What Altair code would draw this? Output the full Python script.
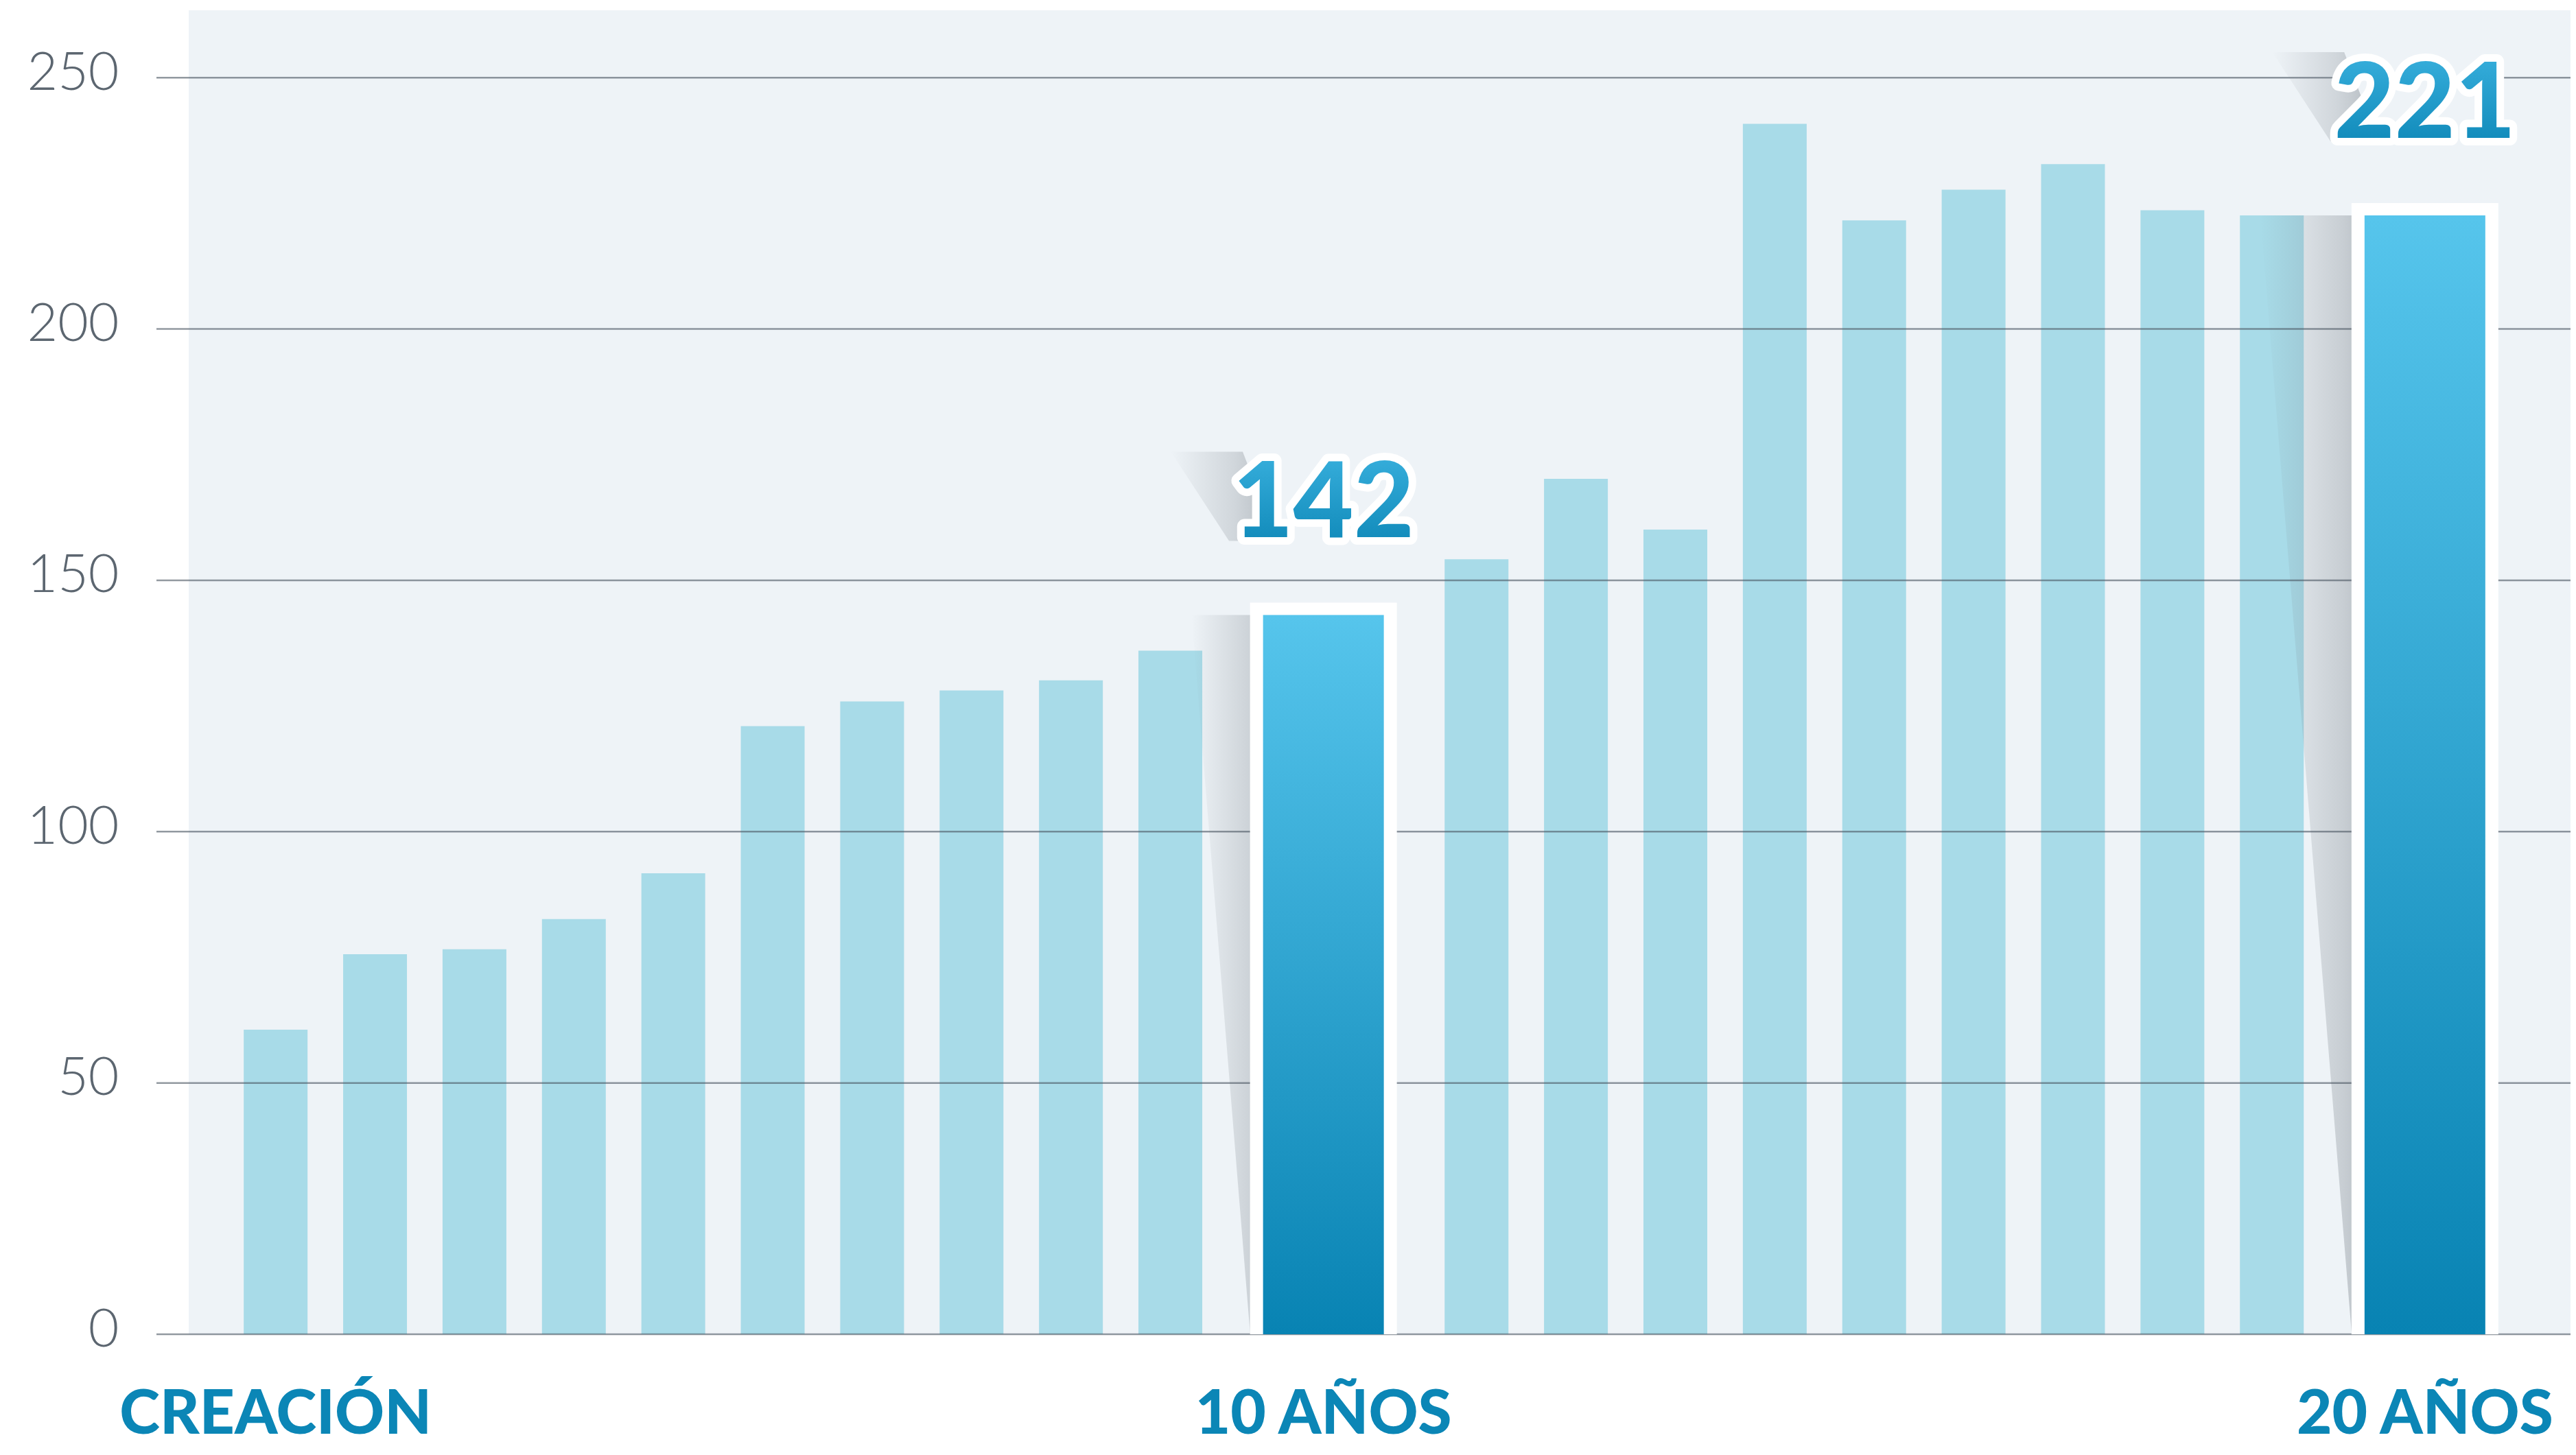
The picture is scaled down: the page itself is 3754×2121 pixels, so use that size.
import altair as alt
import pandas as pd

# ---------------- data ----------------
values = [60.6, 75.6, 76.6, 82.6, 91.7, 121.0, 125.9, 128.1, 130.1, 136.0, 143.1,
          154.2, 170.2, 160.1, 240.8, 221.6, 227.7, 232.8, 223.6, 222.6, 222.6]
highlight_index = [10, 20]
highlight_labels = ["142", "221"]
milestone_index = [0, 10, 20]
milestone_labels = ["CREACIÓN", "10 AÑOS", "20 AÑOS"]
y_ticks = [0, 50, 100, 150, 200, 250]

# ---------------- layout constants ----------------
W, H = 3471, 1930
X_MIN, X_MAX = -0.84, 23.05
Y_MAX = 263.4
UNIT_X = W / (X_MAX - X_MIN)      # px per x unit
UNIT_Y = H / Y_MAX                # px per y unit
GAP = 0.54                        # extra room around highlighted bars (in bar pitches)
TXT_DY = 113                      # px between bar top and number baseline

pos = []
h_before = 0
for i in range(len(values)):
    h = 1 if i in highlight_index else 0
    pos.append(i + GAP * (2 * h_before + h))
    h_before += h

bars = pd.DataFrame({"pos": pos, "value": values,
                     "hl": [i in highlight_index for i in range(len(values))]})
light = bars[~bars["hl"]]
hl = bars[bars["hl"]].copy()
hl["label"] = highlight_labels
hl["white_top"] = hl["value"] + 18 / UNIT_Y

# shadow cast by highlighted bars (triangle to their left)
shadow_rows = []
for k, (p, v) in enumerate(zip(hl["pos"], hl["value"])):
    edge = p - 107 / UNIT_X
    spread = v * 0.6 / UNIT_X
    shadow_rows.append({"g": k, "y": 0, "xl": edge, "xr": p})
    shadow_rows.append({"g": k, "y": v, "xl": edge - spread, "xr": p})
shadow = pd.DataFrame(shadow_rows)

# soft shadow cast by the highlighted numbers (towards the upper left)
tshadow_rows = []
for k, (p, v) in enumerate(zip(hl["pos"], hl["value"])):
    left = p - 128 / UNIT_X
    y_base = v + (TXT_DY - 5) / UNIT_Y
    y_top = v + (TXT_DY + 125) / UNIT_Y
    tshadow_rows.append({"g": k, "y": y_base, "xl": left - 10 / UNIT_X, "xr": left + 60 / UNIT_X})
    tshadow_rows.append({"g": k, "y": y_top, "xl": left - 95 / UNIT_X, "xr": left + 10 / UNIT_X})
tshadow = pd.DataFrame(tshadow_rows)

ticks = pd.DataFrame({"tick": y_ticks})
miles = pd.DataFrame({"pos": [pos[i] for i in milestone_index], "label": milestone_labels})

# ---------------- scales / axes ----------------
xs = alt.Scale(domain=[X_MIN, X_MAX], nice=False, zero=False)
ys = alt.Scale(domain=[0, Y_MAX], nice=False)
yaxis = alt.Axis(values=y_ticks, grid=False, domain=False, ticks=False, title=None,
                 labelPadding=102, labelFont="Lato", labelFontSize=77, labelFontWeight=300,
                 labelColor="#5C6670", labelOffset=-6, labelBaseline="middle")


def X(f):
    return alt.X(f, type="quantitative", scale=xs, axis=None)


def Y(f):
    return alt.Y(f, type="quantitative", scale=ys, axis=yaxis)


blue_v = alt.Gradient(gradient="linear", x1=0, y1=0, x2=0, y2=1,
                      stops=[alt.GradientStop(color="#56C5EC", offset=0),
                             alt.GradientStop(color="#0883B3", offset=1)])
blue_txt = alt.Gradient(gradient="linear", x1=0, y1=0, x2=0, y2=1,
                        stops=[alt.GradientStop(color="#3FB6E3", offset=0),
                               alt.GradientStop(color="#0A84B4", offset=1)])
shadow_g = alt.Gradient(gradient="linear", x1=0, y1=0, x2=1, y2=0,
                        stops=[alt.GradientStop(color="rgba(120,128,136,0)", offset=0),
                               alt.GradientStop(color="rgba(120,128,136,0.32)", offset=0.5),
                               alt.GradientStop(color="rgba(90,98,106,0.70)", offset=1)])
tshadow_g = alt.Gradient(gradient="linear", x1=0, y1=0, x2=1, y2=0,
                         stops=[alt.GradientStop(color="rgba(120,128,136,0)", offset=0),
                                alt.GradientStop(color="rgba(120,128,136,0.25)", offset=0.6),
                                alt.GradientStop(color="rgba(100,108,116,0.45)", offset=1)])

light_bars = alt.Chart(light).mark_bar(size=93, color="#A8DBE8").encode(
    x=X("pos"), y=Y("value"))

shadows = alt.Chart(shadow).mark_area(orient="horizontal", fill=shadow_g).encode(
    y=Y("y"), x=X("xl"), x2="xr", detail="g:N")

text_shadows = alt.Chart(tshadow).mark_area(orient="horizontal", fill=tshadow_g).encode(
    y=Y("y"), x=X("xl"), x2="xr", detail="g:N")

grid = alt.Chart(ticks).mark_rule(color="#4A5560", opacity=0.6, strokeWidth=2.5).encode(
    y=Y("tick"), x=alt.value(-47), x2=alt.value(W))

white_bars = alt.Chart(hl).mark_bar(size=214, color="white").encode(
    x=X("pos"), y=Y("white_top"))

blue_bars = alt.Chart(hl).mark_bar(size=176, fill=blue_v).encode(
    x=X("pos"), y=Y("value"))

num_outline = alt.Chart(hl).mark_text(
    font="Lato", fontWeight=900, fontSize=152, baseline="alphabetic", align="center",
    dy=-TXT_DY, fill="white", stroke="white", strokeWidth=22, strokeJoin="round").encode(
    x=X("pos"), y=Y("value"), text="label:N")

num_text = alt.Chart(hl).mark_text(
    font="Lato", fontWeight=900, fontSize=152, baseline="alphabetic", align="center",
    dy=-TXT_DY, fill=blue_txt).encode(
    x=X("pos"), y=Y("value"), text="label:N")

mile_text = alt.Chart(miles).mark_text(
    font="Lato", fontWeight=900, fontSize=89, baseline="alphabetic", align="center",
    color="#0B86B6").encode(
    x=X("pos"), y=alt.value(H + 145), text="label:N")

chart = alt.layer(light_bars, shadows, grid, text_shadows, white_bars, blue_bars,
                  num_outline, num_text, mile_text).properties(
    width=W, height=H,
    autosize=alt.AutoSizeParams(type="none"),
    padding={"left": 267, "top": 7, "right": 0, "bottom": 164},
    background="white",
).configure_view(stroke=None, fill="#EEF3F7")

chart.save("out.html", embed_options={"renderer": "svg", "actions": False})
